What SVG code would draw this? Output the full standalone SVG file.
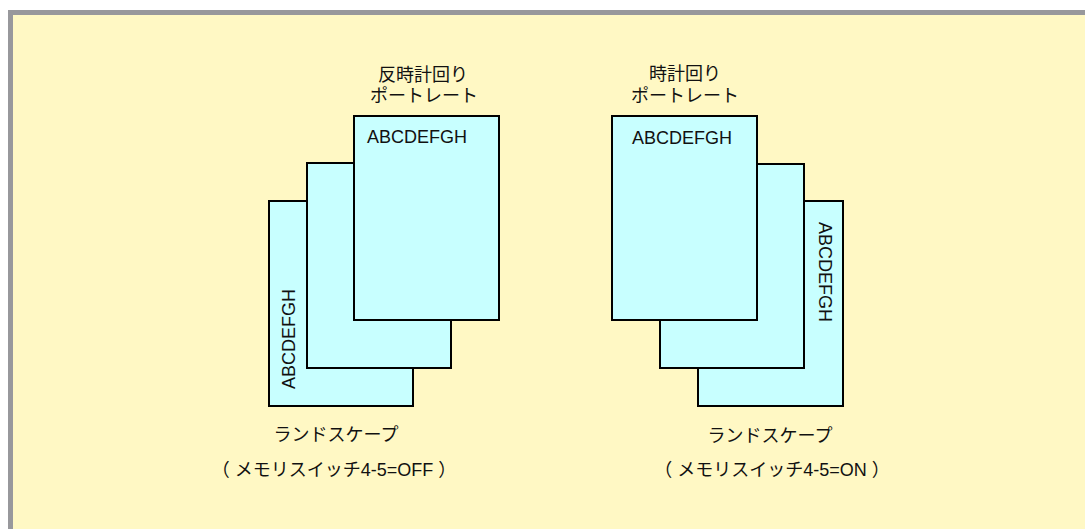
<svg xmlns="http://www.w3.org/2000/svg" width="1085" height="529" viewBox="0 0 1085 529">
<style>
.page{fill:#C8FFFF;stroke:#000;stroke-width:2}
.t{font-family:"Liberation Sans","Noto Sans CJK JP",sans-serif;font-size:18px;fill:#111}
.c{text-anchor:middle}
</style>
<rect x="8" y="10" width="1100" height="600" fill="#98989C"/>
<rect x="13" y="15" width="1095" height="595" fill="#FFF8C4"/>
<g id="left-stack">
<rect class="page" x="269" y="201" width="144" height="205"/>
<text class="t" transform="translate(295,389) rotate(-90)">ABCDEFGH</text>
<rect class="page" x="307" y="163" width="144" height="205"/>
<rect class="page" x="354" y="116" width="145" height="204"/>
<text class="t" x="367" y="143">ABCDEFGH</text>
</g>
<g id="right-stack">
<rect class="page" x="698" y="201" width="145" height="205"/>
<text class="t" transform="translate(819,222) rotate(90)">ABCDEFGH</text>
<rect class="page" x="660" y="164" width="144" height="204"/>
<rect class="page" x="612" y="116" width="145" height="204"/>
<text class="t" x="632" y="144">ABCDEFGH</text>
</g>
<g id="left-labels">
<text class="t c" x="423" y="81">反時計回り</text>
<text class="t c" x="424" y="102">ポートレート</text>
<text class="t c" x="336" y="441">ランドスケープ</text>
<text class="t c" x="334" y="476" xml:space="preserve">（ メモリスイッチ4-5=OFF ）</text>
</g>
<g id="right-labels">
<text class="t c" x="685" y="80">時計回り</text>
<text class="t c" x="685" y="102">ポートレート</text>
<text class="t c" x="770" y="442">ランドスケープ</text>
<text class="t c" x="772" y="476" xml:space="preserve">（ メモリスイッチ4-5=ON ）</text>
</g>
<g id="connectors"/>
</svg>
